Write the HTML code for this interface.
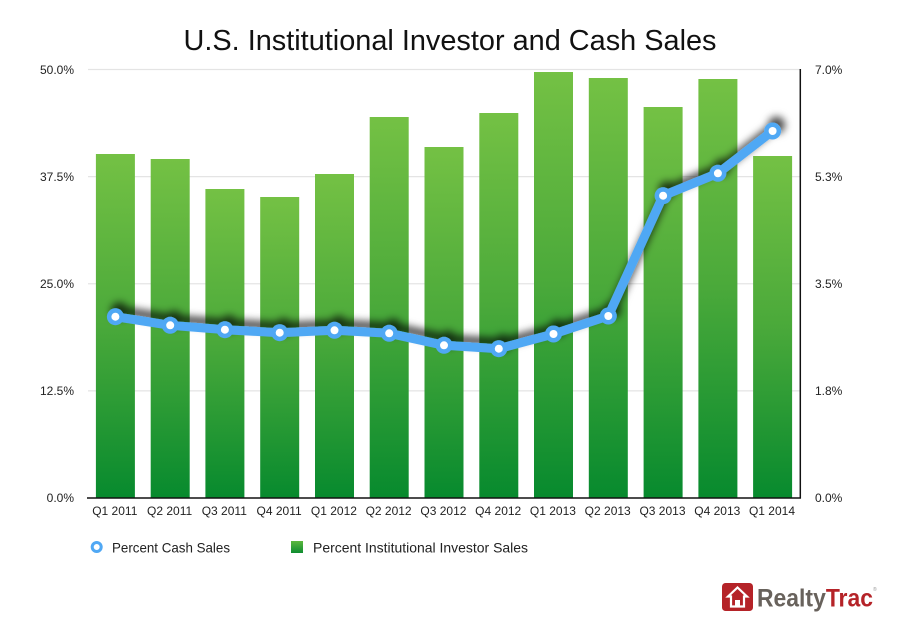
<!DOCTYPE html>
<html><head><meta charset="utf-8"><style>
html,body{margin:0;padding:0;background:#fff;}
svg{display:block;}
text{font-family:"Liberation Sans",sans-serif;}
</style></head><body>
<svg width="900" height="631" viewBox="0 0 900 631" xmlns="http://www.w3.org/2000/svg">
<defs>
<linearGradient id="bg" x1="0" y1="0" x2="0" y2="1">
<stop offset="0" stop-color="#74c144"/>
<stop offset="0.5" stop-color="#4aa93a"/>
<stop offset="1" stop-color="#078a2e"/>
</linearGradient>
<linearGradient id="lg" x1="0" y1="0" x2="0" y2="1">
<stop offset="0" stop-color="#5cb83e"/>
<stop offset="1" stop-color="#0e8c30"/>
</linearGradient>
<filter id="sh" x="-10%" y="-30%" width="120%" height="160%">
<feDropShadow dx="4" dy="-6" stdDeviation="4" flood-color="#000" flood-opacity="0.7"/>
</filter>
</defs>
<text x="450" y="50" font-size="29" text-anchor="middle" fill="#111" textLength="533" lengthAdjust="spacingAndGlyphs">U.S. Institutional Investor and Cash Sales</text>
<g stroke="#e4e4e4" stroke-width="1.2">
<line x1="88" y1="69.5" x2="800" y2="69.5"/>
<line x1="88" y1="176.6" x2="800" y2="176.6"/>
<line x1="88" y1="283.75" x2="800" y2="283.75"/>
<line x1="88" y1="390.9" x2="800" y2="390.9"/>
</g>
<g fill="url(#bg)">
<rect x="95.9" y="154" width="39" height="344"/>
<rect x="150.7" y="159" width="39" height="339"/>
<rect x="205.4" y="189" width="39" height="309"/>
<rect x="260.2" y="197" width="39" height="301"/>
<rect x="315.0" y="174" width="39" height="324"/>
<rect x="369.7" y="117" width="39" height="381"/>
<rect x="424.5" y="147" width="39" height="351"/>
<rect x="479.3" y="113" width="39" height="385"/>
<rect x="534.0" y="72" width="39" height="426"/>
<rect x="588.8" y="78" width="39" height="420"/>
<rect x="643.6" y="107" width="39" height="391"/>
<rect x="698.4" y="79" width="39" height="419"/>
<rect x="753.1" y="156" width="39" height="342"/>
</g>
<line x1="87" y1="498" x2="801" y2="498" stroke="#111" stroke-width="1.5"/>
<line x1="800.3" y1="69" x2="800.3" y2="498.5" stroke="#111" stroke-width="1.5"/>
<g font-size="12" fill="#222" text-anchor="end">
<text x="74" y="74">50.0%</text>
<text x="74" y="181">37.5%</text>
<text x="74" y="288">25.0%</text>
<text x="74" y="395">12.5%</text>
<text x="74" y="502">0.0%</text>
</g>
<g font-size="12" fill="#222">
<text x="815" y="74">7.0%</text>
<text x="815" y="181">5.3%</text>
<text x="815" y="288">3.5%</text>
<text x="815" y="395">1.8%</text>
<text x="815" y="502">0.0%</text>
</g>
<g font-size="12" fill="#222" text-anchor="middle">
<text x="114.8" y="515">Q1 2011</text>
<text x="169.6" y="515">Q2 2011</text>
<text x="224.3" y="515">Q3 2011</text>
<text x="279.1" y="515">Q4 2011</text>
<text x="333.9" y="515">Q1 2012</text>
<text x="388.6" y="515">Q2 2012</text>
<text x="443.4" y="515">Q3 2012</text>
<text x="498.2" y="515">Q4 2012</text>
<text x="552.9" y="515">Q1 2013</text>
<text x="607.7" y="515">Q2 2013</text>
<text x="662.5" y="515">Q3 2013</text>
<text x="717.3" y="515">Q4 2013</text>
<text x="772.0" y="515">Q1 2014</text>
</g>
<g filter="url(#sh)">
<polyline fill="none" stroke="#50a8f4" stroke-width="9" stroke-linejoin="round" stroke-linecap="round"
points="115.4,316.7 170.2,325.3 224.9,329.7 279.7,332.7 334.5,330.3 389.2,333.3 444.0,345.3 498.8,348.7 553.5,334 608.3,316 663.1,195.7 717.9,173.3 772.6,131"/>
<g fill="#50a8f4">
<circle cx="115.4" cy="316.7" r="8.5"/><circle cx="170.2" cy="325.3" r="8.5"/><circle cx="224.9" cy="329.7" r="8.5"/><circle cx="279.7" cy="332.7" r="8.5"/><circle cx="334.5" cy="330.3" r="8.5"/><circle cx="389.2" cy="333.3" r="8.5"/><circle cx="444.0" cy="345.3" r="8.5"/><circle cx="498.8" cy="348.7" r="8.5"/><circle cx="553.5" cy="334" r="8.5"/><circle cx="608.3" cy="316" r="8.5"/><circle cx="663.1" cy="195.7" r="8.5"/><circle cx="717.9" cy="173.3" r="8.5"/><circle cx="772.6" cy="131" r="8.5"/>
</g>
</g>
<g fill="#fff">
<circle cx="115.4" cy="316.7" r="4"/><circle cx="170.2" cy="325.3" r="4"/><circle cx="224.9" cy="329.7" r="4"/><circle cx="279.7" cy="332.7" r="4"/><circle cx="334.5" cy="330.3" r="4"/><circle cx="389.2" cy="333.3" r="4"/><circle cx="444.0" cy="345.3" r="4"/><circle cx="498.8" cy="348.7" r="4"/><circle cx="553.5" cy="334" r="4"/><circle cx="608.3" cy="316" r="4"/><circle cx="663.1" cy="195.7" r="4"/><circle cx="717.9" cy="173.3" r="4"/><circle cx="772.6" cy="131" r="4"/>
</g>
<circle cx="96.7" cy="547" r="4.5" fill="#fff" stroke="#50a8f4" stroke-width="3"/>
<text x="112" y="552.5" font-size="14" fill="#222" textLength="118" lengthAdjust="spacingAndGlyphs">Percent Cash Sales</text>
<rect x="291" y="541" width="12" height="12" fill="url(#lg)"/>
<text x="313" y="552.5" font-size="14" fill="#222" textLength="215" lengthAdjust="spacingAndGlyphs">Percent Institutional Investor Sales</text>
<rect x="722" y="583" width="31" height="28" rx="3.5" fill="#b52328"/>
<path d="M737.5 587.5 L728 596.5 L731 596.5 L731 606.5 L744 606.5 L744 596.5 L747 596.5 Z" fill="none" stroke="#fff" stroke-width="2.2" stroke-linejoin="miter"/>
<rect x="735" y="600" width="5" height="6.5" fill="#fff"/>
<text x="757" y="606.5" font-size="25" font-weight="bold" textLength="116" lengthAdjust="spacingAndGlyphs"><tspan fill="#68625c">Realty</tspan><tspan fill="#b52328">Trac</tspan></text>
<text x="873" y="591" font-size="5" fill="#999">®</text>
</svg>
</body></html>
